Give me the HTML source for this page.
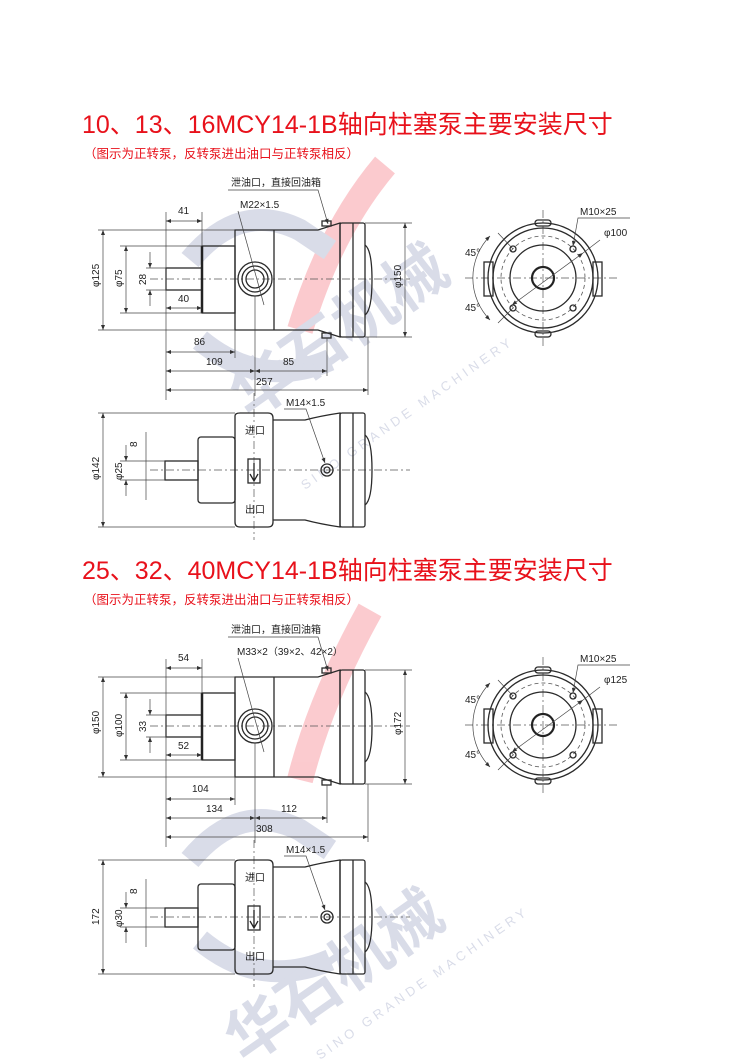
<!DOCTYPE html>
<html><head><meta charset="utf-8">
<style>
html,body{margin:0;padding:0;background:#fff;}
svg{display:block;}
.t{font-family:"Liberation Sans","Noto Sans CJK SC",sans-serif;fill:#222;font-size:10px;}
.o{fill:none;stroke:#2a2a2a;stroke-width:1.3;}
.d{fill:none;stroke:#444;stroke-width:0.7;}
.c{fill:none;stroke:#555;stroke-width:0.7;stroke-dasharray:8 3 2 3;}
.h{fill:none;stroke:#555;stroke-width:0.8;stroke-dasharray:4 3;}
.a{fill:none;stroke:#444;stroke-width:0.7;marker-start:url(#ar);marker-end:url(#ar);}
.l{fill:none;stroke:#444;stroke-width:0.7;marker-end:url(#ar);}
.title{font-family:"Liberation Sans","Noto Sans CJK SC",sans-serif;fill:#e8111b;font-size:25px;}
.sub{font-family:"Liberation Sans","Noto Sans CJK SC",sans-serif;fill:#e8111b;font-size:12.5px;}
</style></head><body>
<svg width="750" height="1063" viewBox="0 0 750 1063" xmlns="http://www.w3.org/2000/svg">
<defs>
<marker id="ar" viewBox="0 0 10 10" refX="10" refY="5" markerWidth="7" markerHeight="5" orient="auto-start-reverse" markerUnits="userSpaceOnUse"><path d="M0,1 L10,5 L0,9 Z" fill="#333"/></marker>
</defs>

<!-- watermarks -->
<g opacity="0.25">
<path d="M385,165 Q330,230 300,330" stroke="#f03040" stroke-width="26" fill="none"/>
<path d="M370,610 Q320,700 300,780" stroke="#f03040" stroke-width="26" fill="none"/>
<path d="M190,260 Q240,200 300,230 L330,250" stroke="#6a76a8" stroke-width="22" fill="none"/>
<path d="M200,340 Q260,390 330,360" stroke="#6a76a8" stroke-width="22" fill="none"/>
<path d="M190,860 Q240,800 300,830 L330,850" stroke="#6a76a8" stroke-width="22" fill="none"/>
<path d="M200,940 Q260,990 330,960" stroke="#6a76a8" stroke-width="22" fill="none"/>
<text x="250" y="420" transform="rotate(-35 250 420)" font-family="Noto Sans CJK SC,sans-serif" font-size="62" font-weight="bold" fill="#6a76a8">华石机械</text>
<text x="245" y="1065" transform="rotate(-35 245 1065)" font-family="Noto Sans CJK SC,sans-serif" font-size="62" font-weight="bold" fill="#6a76a8">华石机械</text>
<text x="305" y="490" transform="rotate(-35 305 490)" font-family="Liberation Sans,sans-serif" font-size="13" letter-spacing="4" fill="#6a76a8">SINO GRANDE MACHINERY</text>
<text x="320" y="1060" transform="rotate(-35 320 1060)" font-family="Liberation Sans,sans-serif" font-size="13" letter-spacing="4" fill="#6a76a8">SINO GRANDE MACHINERY</text>
</g>

<text class="title" x="82" y="133">10、13、16MCY14-1B轴向柱塞泵主要安装尺寸</text>
<text class="sub" x="84" y="158">（图示为正转泵，反转泵进出油口与正转泵相反）</text>
<text class="title" x="82" y="579">25、32、40MCY14-1B轴向柱塞泵主要安装尺寸</text>
<text class="sub" x="84" y="604">（图示为正转泵，反转泵进出油口与正转泵相反）</text>

<!-- ========== SECTION 1 ========== -->
<g>
<line class="c" x1="150" y1="279" x2="410" y2="279"/>
<rect class="o" x="166" y="268" width="36" height="22"/>
<rect class="o" x="202" y="246" width="33" height="67"/>
<line x1="202" y1="246" x2="202" y2="313" stroke="#222" stroke-width="2.5"/>
<path class="o" d="M235,230 H318 L340,223 V337 L318,330 H235 Z"/>
<line class="o" x1="274" y1="230" x2="274" y2="330"/>
<rect class="o" x="322" y="221" width="9" height="5"/>
<rect class="o" x="322" y="333" width="9" height="5"/>
<rect class="o" x="340" y="223" width="25" height="114" rx="2"/>
<line class="o" x1="353" y1="223" x2="353" y2="337"/>
<path class="o" d="M365,245 Q372,250 372,280 Q372,310 365,315"/>
<circle class="o" cx="255" cy="279" r="17"/><circle class="o" cx="255" cy="279" r="13"/><circle class="o" cx="255" cy="279" r="9"/>
<line class="d" x1="98" y1="230" x2="235" y2="230"/><line class="d" x1="98" y1="330" x2="235" y2="330"/>
<line class="a" x1="103" y1="230" x2="103" y2="330"/>
<text class="t" transform="translate(99 287) rotate(-90)">φ125</text>
<line class="d" x1="120" y1="246" x2="202" y2="246"/><line class="d" x1="120" y1="313" x2="202" y2="313"/>
<line class="a" x1="126" y1="246" x2="126" y2="313"/>
<text class="t" transform="translate(122 287) rotate(-90)">φ75</text>
<line class="d" x1="146" y1="268" x2="166" y2="268"/><line class="d" x1="146" y1="290" x2="166" y2="290"/>
<line class="l" x1="150" y1="252" x2="150" y2="268"/><line class="l" x1="150" y1="306" x2="150" y2="290"/>
<text class="t" transform="translate(146 285) rotate(-90)">28</text>
<line class="d" x1="166" y1="212" x2="166" y2="400"/><line class="d" x1="202" y1="212" x2="202" y2="246"/>
<line class="a" x1="166" y1="221" x2="202" y2="221"/><text class="t" x="178" y="214">41</text>
<line class="a" x1="166" y1="308" x2="202" y2="308"/><text class="t" x="178" y="302">40</text>
<line class="d" x1="235" y1="330" x2="235" y2="358"/>
<line class="a" x1="166" y1="352" x2="235" y2="352"/><text class="t" x="194" y="345">86</text>
<line class="d" x1="255" y1="296" x2="255" y2="396"/><line class="d" x1="327" y1="338" x2="327" y2="376"/>
<line class="a" x1="166" y1="371" x2="255" y2="371"/><text class="t" x="206" y="365">109</text>
<line class="a" x1="255" y1="371" x2="327" y2="371"/><text class="t" x="283" y="365">85</text>
<line class="d" x1="368" y1="337" x2="368" y2="395"/>
<line class="a" x1="166" y1="390" x2="368" y2="390"/><text class="t" x="256" y="385">257</text>
<line class="d" x1="365" y1="223" x2="412" y2="223"/><line class="d" x1="365" y1="337" x2="412" y2="337"/>
<line class="a" x1="405" y1="223" x2="405" y2="337"/>
<text class="t" transform="translate(401 288) rotate(-90)">φ150</text>
<text class="t" x="231" y="186" font-size="9.5">泄油口，直接回油箱</text>
<polyline class="l" points="228,190 318,190 328,224"/>
<text class="t" x="240" y="208">M22×1.5</text>
<line class="d" x1="238" y1="211" x2="264" y2="305"/>
<line class="c" x1="465" y1="278" x2="620" y2="278"/>
<line class="c" x1="543" y1="210" x2="543" y2="348"/>
<circle class="o" cx="543" cy="278" r="55"/><circle class="o" cx="543" cy="278" r="50"/>
<circle class="h" cx="543" cy="278" r="42"/>
<circle class="o" cx="543" cy="278" r="33"/>
<circle cx="543" cy="278" r="11" fill="none" stroke="#222" stroke-width="2.2"/>
<rect class="o" x="484" y="262" width="9" height="34" fill="#fff"/>
<rect class="o" x="593" y="262" width="9" height="34" fill="#fff"/>
<rect class="o" x="535" y="220" width="16" height="6" rx="3" fill="#fff"/>
<rect class="o" x="535" y="331" width="16" height="6" rx="3" fill="#fff"/>
<circle class="o" cx="513" cy="249" r="3"/><circle class="o" cx="573" cy="249" r="3"/>
<circle class="o" cx="513" cy="308" r="3"/><circle class="o" cx="573" cy="308" r="3"/>
<line class="d" x1="498" y1="233" x2="513" y2="249"/><line class="d" x1="498" y1="323" x2="513" y2="308"/>
<path class="d" d="M490,236 A60,60 0 0 0 490,320" marker-start="url(#ar)" marker-end="url(#ar)"/>
<text class="t" x="465" y="256">45°</text><text class="t" x="465" y="311">45°</text>
<text class="t" x="580" y="215">M10×25</text>
<polyline class="l" points="630,218 578,218 573,246"/>
<text class="t" x="604" y="236">φ100</text>
<line class="a" x1="512" y1="305" x2="583" y2="253"/><line class="d" x1="583" y1="253" x2="600" y2="240"/>
<line class="c" x1="150" y1="470" x2="410" y2="470"/>
<line class="c" x1="254" y1="393" x2="254" y2="540"/>
<rect class="o" x="165" y="461" width="33" height="19"/>
<rect class="o" x="198" y="437" width="37" height="66" rx="3"/>
<path class="o" d="M235,416 Q235,413 240,413 H268 Q273,413 273,418 V522 Q273,527 268,527 H240 Q235,527 235,522 Z"/>
<path class="o" d="M273,420 H305 Q320,416 340,413 V527 Q320,524 305,520 H273"/>
<rect class="o" x="340" y="413" width="25" height="114" rx="2"/>
<line class="o" x1="353" y1="413" x2="353" y2="527"/>
<path class="o" d="M365,435 Q372,440 372,470 Q372,500 365,505"/>
<rect class="o" x="248" y="459" width="12" height="24"/>
<path d="M254,463 V480 M250,474 L254,481 L258,474" stroke="#222" stroke-width="1.3" fill="none"/>
<circle class="o" cx="327" cy="470" r="6"/><circle class="o" cx="327" cy="470" r="3"/>
<text class="t" x="245" y="434">进口</text><text class="t" x="245" y="513">出口</text>
<line class="d" x1="98" y1="413" x2="235" y2="413"/><line class="d" x1="98" y1="527" x2="235" y2="527"/>
<line class="a" x1="103" y1="413" x2="103" y2="527"/>
<text class="t" transform="translate(99 480) rotate(-90)">φ142</text>
<line class="d" x1="120" y1="461" x2="165" y2="461"/><line class="d" x1="120" y1="480" x2="165" y2="480"/>
<line class="l" x1="126" y1="445" x2="126" y2="461"/><line class="l" x1="126" y1="496" x2="126" y2="480"/>
<text class="t" transform="translate(122 480) rotate(-90)">φ25</text>
<line class="d" x1="146" y1="432" x2="146" y2="500"/>
<text class="t" transform="translate(137 447) rotate(-90)">8</text>
<text class="t" x="286" y="406">M14×1.5</text>
<polyline class="l" points="284,409 306,409 325,463"/>
</g>

<!-- ========== SECTION 2 ========== -->
<g transform="translate(0 447)">
<line class="c" x1="150" y1="279" x2="410" y2="279"/>
<rect class="o" x="166" y="268" width="36" height="22"/>
<rect class="o" x="202" y="246" width="33" height="67"/>
<line x1="202" y1="246" x2="202" y2="313" stroke="#222" stroke-width="2.5"/>
<path class="o" d="M235,230 H318 L340,223 V337 L318,330 H235 Z"/>
<line class="o" x1="274" y1="230" x2="274" y2="330"/>
<rect class="o" x="322" y="221" width="9" height="5"/>
<rect class="o" x="322" y="333" width="9" height="5"/>
<rect class="o" x="340" y="223" width="25" height="114" rx="2"/>
<line class="o" x1="353" y1="223" x2="353" y2="337"/>
<path class="o" d="M365,245 Q372,250 372,280 Q372,310 365,315"/>
<circle class="o" cx="255" cy="279" r="17"/><circle class="o" cx="255" cy="279" r="13"/><circle class="o" cx="255" cy="279" r="9"/>
<line class="d" x1="98" y1="230" x2="235" y2="230"/><line class="d" x1="98" y1="330" x2="235" y2="330"/>
<line class="a" x1="103" y1="230" x2="103" y2="330"/>
<text class="t" transform="translate(99 287) rotate(-90)">φ150</text>
<line class="d" x1="120" y1="246" x2="202" y2="246"/><line class="d" x1="120" y1="313" x2="202" y2="313"/>
<line class="a" x1="126" y1="246" x2="126" y2="313"/>
<text class="t" transform="translate(122 290) rotate(-90)">φ100</text>
<line class="d" x1="146" y1="268" x2="166" y2="268"/><line class="d" x1="146" y1="290" x2="166" y2="290"/>
<line class="l" x1="150" y1="252" x2="150" y2="268"/><line class="l" x1="150" y1="306" x2="150" y2="290"/>
<text class="t" transform="translate(146 285) rotate(-90)">33</text>
<line class="d" x1="166" y1="212" x2="166" y2="400"/><line class="d" x1="202" y1="212" x2="202" y2="246"/>
<line class="a" x1="166" y1="221" x2="202" y2="221"/><text class="t" x="178" y="214">54</text>
<line class="a" x1="166" y1="308" x2="202" y2="308"/><text class="t" x="178" y="302">52</text>
<line class="d" x1="235" y1="330" x2="235" y2="358"/>
<line class="a" x1="166" y1="352" x2="235" y2="352"/><text class="t" x="192" y="345">104</text>
<line class="d" x1="255" y1="296" x2="255" y2="396"/><line class="d" x1="327" y1="338" x2="327" y2="376"/>
<line class="a" x1="166" y1="371" x2="255" y2="371"/><text class="t" x="206" y="365">134</text>
<line class="a" x1="255" y1="371" x2="327" y2="371"/><text class="t" x="281" y="365">112</text>
<line class="d" x1="368" y1="337" x2="368" y2="395"/>
<line class="a" x1="166" y1="390" x2="368" y2="390"/><text class="t" x="256" y="385">308</text>
<line class="d" x1="365" y1="223" x2="412" y2="223"/><line class="d" x1="365" y1="337" x2="412" y2="337"/>
<line class="a" x1="405" y1="223" x2="405" y2="337"/>
<text class="t" transform="translate(401 288) rotate(-90)">φ172</text>
<text class="t" x="231" y="186" font-size="9.5">泄油口，直接回油箱</text>
<polyline class="l" points="228,190 318,190 328,224"/>
<text class="t" x="237" y="208" font-size="9.5">M33×2（39×2、42×2）</text>
<line class="d" x1="238" y1="211" x2="264" y2="305"/>
<line class="c" x1="465" y1="278" x2="620" y2="278"/>
<line class="c" x1="543" y1="210" x2="543" y2="348"/>
<circle class="o" cx="543" cy="278" r="55"/><circle class="o" cx="543" cy="278" r="50"/>
<circle class="h" cx="543" cy="278" r="42"/>
<circle class="o" cx="543" cy="278" r="33"/>
<circle cx="543" cy="278" r="11" fill="none" stroke="#222" stroke-width="2.2"/>
<rect class="o" x="484" y="262" width="9" height="34" fill="#fff"/>
<rect class="o" x="593" y="262" width="9" height="34" fill="#fff"/>
<rect class="o" x="535" y="220" width="16" height="6" rx="3" fill="#fff"/>
<rect class="o" x="535" y="331" width="16" height="6" rx="3" fill="#fff"/>
<circle class="o" cx="513" cy="249" r="3"/><circle class="o" cx="573" cy="249" r="3"/>
<circle class="o" cx="513" cy="308" r="3"/><circle class="o" cx="573" cy="308" r="3"/>
<line class="d" x1="498" y1="233" x2="513" y2="249"/><line class="d" x1="498" y1="323" x2="513" y2="308"/>
<path class="d" d="M490,236 A60,60 0 0 0 490,320" marker-start="url(#ar)" marker-end="url(#ar)"/>
<text class="t" x="465" y="256">45°</text><text class="t" x="465" y="311">45°</text>
<text class="t" x="580" y="215">M10×25</text>
<polyline class="l" points="630,218 578,218 573,246"/>
<text class="t" x="604" y="236">φ125</text>
<line class="a" x1="512" y1="305" x2="583" y2="253"/><line class="d" x1="583" y1="253" x2="600" y2="240"/>
<line class="c" x1="150" y1="470" x2="410" y2="470"/>
<line class="c" x1="254" y1="393" x2="254" y2="540"/>
<rect class="o" x="165" y="461" width="33" height="19"/>
<rect class="o" x="198" y="437" width="37" height="66" rx="3"/>
<path class="o" d="M235,416 Q235,413 240,413 H268 Q273,413 273,418 V522 Q273,527 268,527 H240 Q235,527 235,522 Z"/>
<path class="o" d="M273,420 H305 Q320,416 340,413 V527 Q320,524 305,520 H273"/>
<rect class="o" x="340" y="413" width="25" height="114" rx="2"/>
<line class="o" x1="353" y1="413" x2="353" y2="527"/>
<path class="o" d="M365,435 Q372,440 372,470 Q372,500 365,505"/>
<rect class="o" x="248" y="459" width="12" height="24"/>
<path d="M254,463 V480 M250,474 L254,481 L258,474" stroke="#222" stroke-width="1.3" fill="none"/>
<circle class="o" cx="327" cy="470" r="6"/><circle class="o" cx="327" cy="470" r="3"/>
<text class="t" x="245" y="434">进口</text><text class="t" x="245" y="513">出口</text>
<line class="d" x1="98" y1="413" x2="235" y2="413"/><line class="d" x1="98" y1="527" x2="235" y2="527"/>
<line class="a" x1="103" y1="413" x2="103" y2="527"/>
<text class="t" transform="translate(99 478) rotate(-90)">172</text>
<line class="d" x1="120" y1="461" x2="165" y2="461"/><line class="d" x1="120" y1="480" x2="165" y2="480"/>
<line class="l" x1="126" y1="445" x2="126" y2="461"/><line class="l" x1="126" y1="496" x2="126" y2="480"/>
<text class="t" transform="translate(122 480) rotate(-90)">φ30</text>
<line class="d" x1="146" y1="432" x2="146" y2="500"/>
<text class="t" transform="translate(137 447) rotate(-90)">8</text>
<text class="t" x="286" y="406">M14×1.5</text>
<polyline class="l" points="284,409 306,409 325,463"/>
</g>
</svg>
</body></html>
